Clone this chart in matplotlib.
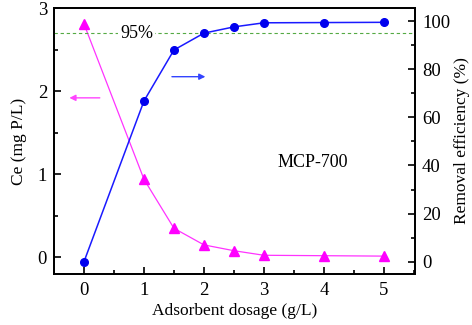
import numpy as np
import matplotlib
matplotlib.use("Agg")
import matplotlib.pyplot as plt
from matplotlib.ticker import MultipleLocator

# data
dosage  = [0, 1, 1.5, 2, 2.5, 3, 4, 5]
ce      = [2.81, 0.94, 0.35, 0.15, 0.08, 0.025, 0.02, 0.015]
removal = [0.0, 66.8, 88.0, 95.0, 97.6, 99.3, 99.4, 99.5]

plt.rcParams['font.family'] = ['Liberation Serif', 'DejaVu Serif']
plt.rcParams['font.size'] = 12.5

fig = plt.figure(figsize=(4.72, 3.25), dpi=100)
ax = fig.add_axes([0.1144, 0.157, 0.765, 0.818])
ax2 = ax.twinx()

ax.plot(dosage, ce, color='#ff33ff', lw=0.9, marker='^', ms=6.5,
        mfc='#ff00ff', mec='#ff00ff', zorder=3)
ax2.plot(dosage, removal, color='#1a1aff', lw=1.1, marker='o', ms=5.5,
         mfc='#0000ee', mec='#0000ee', zorder=3)

# 95% reference line
ax2.axhline(95, color='#55aa44', lw=0.8, ls=(0, (3, 2.5)), zorder=1)
ax2.text(0.88, 95, '95%', ha='center', va='center', fontsize=13,
         bbox=dict(facecolor='white', edgecolor='none', pad=1.5), zorder=2)

# arrows
ax.annotate('', xy=(-0.29, 1.92), xytext=(0.31, 1.92),
            arrowprops=dict(arrowstyle='-|>', color='#ff44ff', lw=1.0,
                            mutation_scale=9))
ax2.annotate('', xy=(2.07, 76.9), xytext=(1.42, 76.9),
             arrowprops=dict(arrowstyle='-|>', color='#3344ff', lw=1.0,
                             mutation_scale=9))

ax.text(3.82, 1.14, 'MCP-700', ha='center', va='center', fontsize=13)

ax.set_xlim(-0.5, 5.52)
ax.set_ylim(-0.2, 3.0)
ax2.set_ylim(-5.1, 105.4)

ax.xaxis.set_major_locator(MultipleLocator(1))
ax.xaxis.set_minor_locator(MultipleLocator(0.5))
ax.yaxis.set_major_locator(MultipleLocator(1))
ax.yaxis.set_minor_locator(MultipleLocator(0.5))
ax2.yaxis.set_major_locator(MultipleLocator(20))
ax2.yaxis.set_minor_locator(MultipleLocator(10))

for a in (ax, ax2):
    a.tick_params(which='major', direction='in', length=5, width=1.2,
                  labelsize=13.5, pad=5)
    a.tick_params(which='minor', direction='in', length=3, width=1.2)
    for s in a.spines.values():
        s.set_linewidth(1.3)
ax.tick_params(axis='both', which='both', top=False, right=False)
ax.tick_params(axis='x', pad=6)

ax.set_xlabel('Adsorbent dosage (g/L)', labelpad=3, fontsize=12.5)
ax.set_ylabel('Ce (mg P/L)', labelpad=8, fontsize=12.5)
ax2.set_ylabel('Removal efficiency (%)', labelpad=3, fontsize=12.5)

fig.savefig('out.png', dpi=100)
